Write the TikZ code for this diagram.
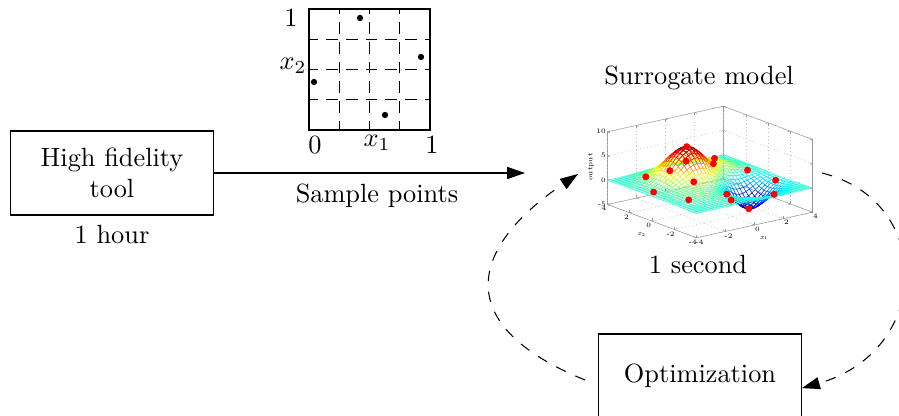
\documentclass[tikz,border=0pt]{standalone}
\usepackage{pgfplots}
\pgfplotsset{compat=1.18}
\usetikzlibrary{arrows.meta}

\newcommand{\plotvar}[1]{\textit{x}\raisebox{-0.25ex}{\fontsize{1.7}{1.7}\selectfont #1}}

\begin{document}
\begin{tikzpicture}[
    x=0.38pt, y=0.38pt,
    block/.style={
      rectangle,
      draw=black,
      line width=0.5pt,
      minimum width=77pt,
      minimum height=32pt,
      align=center,
      inner sep=2pt
    },
    flow/.style={
      -{Triangle[length=6.8pt,width=4.6pt]},
      draw=black,
      line width=0.4pt
    },
    loopflow/.style={
      flow,
      dash pattern=on 4pt off 4pt
    },
    griddash/.style={
      draw=black,
      line width=0.4pt,
      dash pattern=on 4.5pt off 3pt,
      dash phase=1pt
    }
  ]
    \useasboundingbox (0,0) rectangle (899,416);

    % tools
    \node[block] (hf) at (112,243) {High fidelity\\tool};
    \node (hftime) at (112,181) {1 hour};
    \node[block] (opt) at (700,40) {Optimization};

    % sampling plan
    \draw[line width=0.5pt] (309,286) rectangle (430,407);
    \foreach \k in {1,2,3} {
      \draw[griddash] (309+30.25*\k,286) -- (309+30.25*\k,407);
      \draw[griddash] (309,286+30.25*\k) -- (430,286+30.25*\k);
    }
    \foreach \px/\py in {360/398, 421/359, 314/334, 385/301}
      \fill (\px,\py) circle (1.2pt);
    \node (xtop) at (291,398) {1};
    \node (xtwo) at (293,350) {$x_2$};
    \node (xzero) at (315,271) {0};
    \node (xone) at (377,273) {$x_1$};
    \node (xright) at (432,271) {1};

    % surrogate
    \node (smodel) at (699,338) {Surrogate model};
    \node (stime) at (698,151) {1 second};
    \coordinate (surf) at (710,244);
    \begin{axis}[
        name=plot, at={(surf)}, anchor=center,
        view={-37.5}{30},
        scale only axis, width=78pt, height=50pt,
        xmin=-4, xmax=4, ymin=-4, ymax=4, zmin=-5, zmax=10,
        xtick={-4,-2,...,4}, ytick={-4,-2,...,4}, ztick={-5,0,5,10},
        xticklabels={-4,-2,0,2,4}, yticklabels={-4,-2,0,2,4},
        zticklabels={-5,0,5,10},
        grid=major, major grid style={densely dotted, gray!50, line width=0.2pt},
        axis line style={gray!80, line width=0.2pt},
        tick style={gray!80, line width=0.2pt}, major tick length=1pt,
        tick label style={font=\fontsize{2.6}{2.6}\selectfont, inner sep=0.4pt},
        label style={font=\fontsize{2.6}{2.6}\selectfont, inner sep=0.4pt},
        xlabel={\plotvar{1}}, ylabel={\plotvar{2}}, zlabel={output},
        colormap/jet,
        declare function={
          f(\a,\b)=7*exp(-((\a+0.6)^2+(\b-1.3)^2)/2.6)
                  -5*exp(-((\a-1.6)^2+(\b+1.4)^2)/1.8)
                  +1.8*exp(-((\a-2)^2+(\b-2)^2)/1.2)
                  +0.8*exp(-((\a+2)^2+(\b+1.5)^2)/2);
        }
      ]
      \addplot3[mesh, line width=0.15pt, samples=35, domain=-4:4, y domain=-4:4] {f(x,y)};
      \addplot3[only marks, mark=*, mark size=1.1pt, red]
        table[row sep=\\, x=a, y=b, z expr={f(\thisrow{a},\thisrow{b})}] {
          a b\\
          -3.5 0.5\\ -2.5 2.5\\ -3 -2\\ -1.5 -0.5\\ -0.6 1.3\\
          -1 -3.2\\ 0 -1.5\\ 0.5 2.8\\ 1 1\\ 1.6 -1.4\\
          2 2.2\\ 2.5 -2.5\\ 3.2 0.8\\ 3.6 -1.2\\ -2 1\\
        };
    \end{axis}

    % connections
    \draw[flow] (hf.east) -- (525,243) coordinate (arrowend);
    \node (sample) at (377,220) {Sample points};
    \coordinate (l0) at (585,36);
    \coordinate (l1) at (578,242);
    \draw[loopflow] (l0) .. controls (452,90) and (467,167) .. (l1);
    \coordinate (r0) at (822,243);
    \draw[loopflow] (r0) .. controls (935,215) and (932,65) .. ([yshift=-4.6pt]opt.east);
  \end{tikzpicture}
\end{document}
